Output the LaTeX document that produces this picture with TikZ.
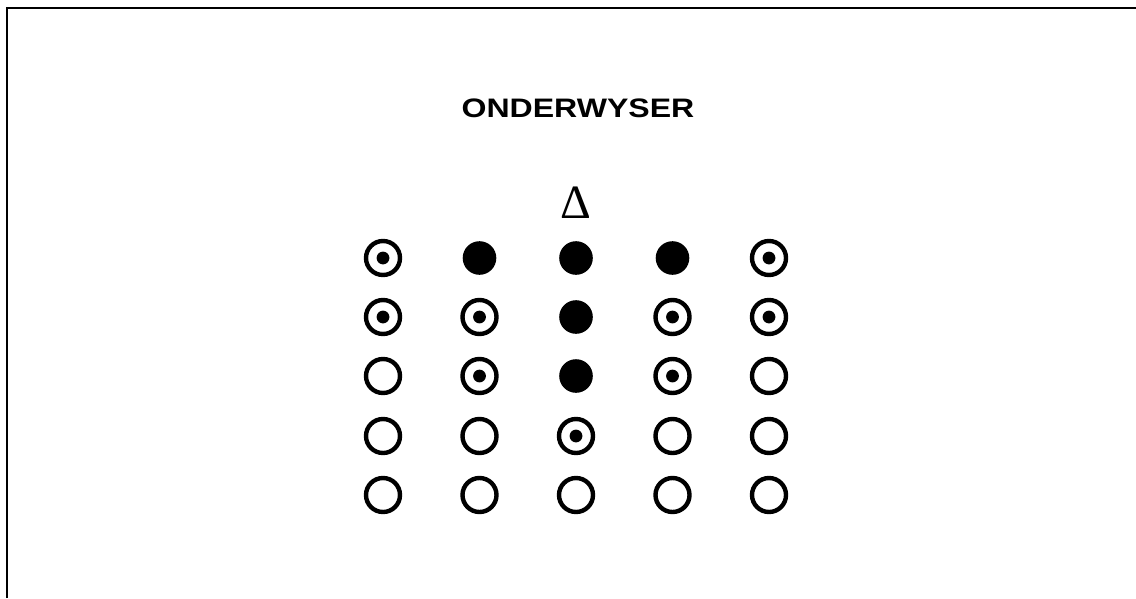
\documentclass[tikz,border=0pt]{standalone}
\usepackage{fontspec}
\setmainfont{Liberation Sans}
\newfontfamily\deltafont{Liberation Serif}
\tikzset{
  seat/.style={circle, inner sep=0pt, outer sep=0pt, minimum size=0.85cm},
  openseat/.style={seat, draw, line width=0.11cm},
  ringseat/.style={openseat, path picture={\fill (path picture bounding box.center) circle (0.16cm);}},
  fullseat/.style={seat, fill, minimum size=0.84cm},
}
\begin{document}
\begin{tikzpicture}[x=0.025cm, y=-0.025cm]
\useasboundingbox (0,0) rectangle (1136,598);
% frame (top and left edge only)
\coordinate (fbl) at (7,598);
\coordinate (ftl) at (7,8);
\coordinate (ftr) at (1136,8);
\draw[line width=1.4pt] (fbl) -- (ftl) -- (ftr);

\node[anchor=base, font=\bfseries\fontsize{19}{22}\selectfont, xscale=1.2, transform shape] (title) at (578,117) {ONDERWYSER};
\node[anchor=base, font=\deltafont\fontsize{34}{38}\selectfont, inner sep=0pt] (teacher) at (576,218) {Δ};

% seats, one row per line
\foreach \row/\kinds [count=\r] in {
  258/{ringseat,fullseat,fullseat,fullseat,ringseat},
  317/{ringseat,ringseat,fullseat,ringseat,ringseat},
  376/{openseat,ringseat,fullseat,ringseat,openseat},
  436/{openseat,openseat,ringseat,openseat,openseat},
  495/{openseat,openseat,openseat,openseat,openseat}} {
  \foreach \k [count=\c] in \kinds {
    \node[\k] (s-\r-\c) at (383+96.5*\c-96.5,\row) {};
  }
}
\end{tikzpicture}
\end{document}
